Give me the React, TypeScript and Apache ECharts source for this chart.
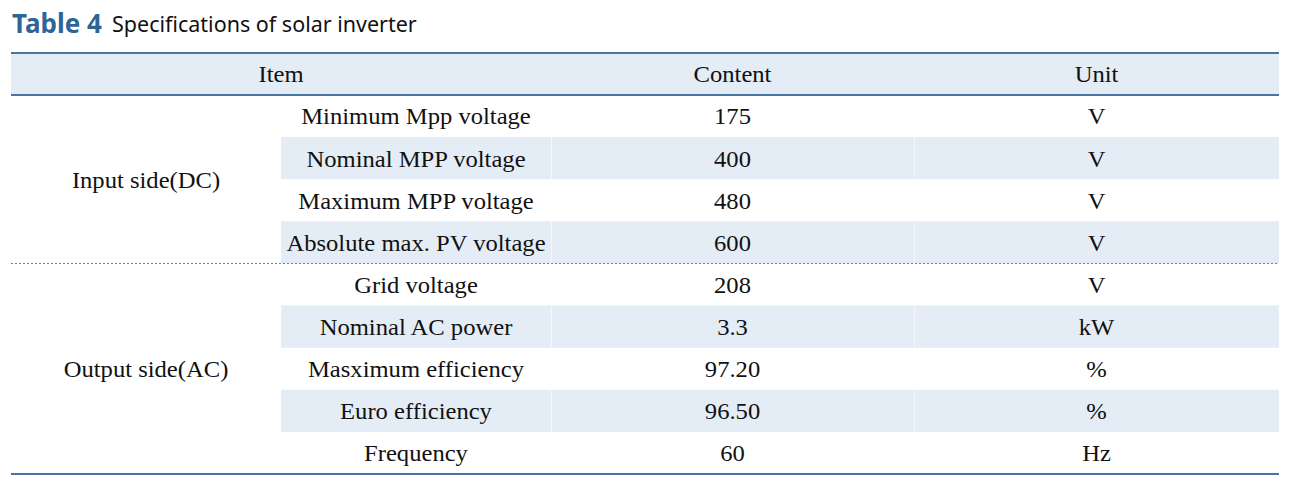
import React, { useEffect, useRef } from "react";
import * as echarts from "echarts";

const titleBold = "Table 4";
const titleRest = "Specifications of solar inverter";
const headers = ["Item", "Content", "Unit"];
const groups = ["Input side(DC)", "Output side(AC)"];
const groupSizes = [4, 5];
const items = [
  "Minimum Mpp voltage",
  "Nominal MPP voltage",
  "Maximum MPP voltage",
  "Absolute max. PV voltage",
  "Grid voltage",
  "Nominal AC power",
  "Masximum efficiency",
  "Euro efficiency",
  "Frequency",
];
const contents = ["175", "400", "480", "600", "208", "3.3", "97.20", "96.50", "60"];
const units = ["V", "V", "V", "V", "V", "kW", "%", "%", "Hz"];

export default function App() {
  const ref = useRef<HTMLDivElement>(null);
  useEffect(() => {
    document.body.style.margin = "0";
    const chart = echarts.init(ref.current!, null, { renderer: "svg" });
    const L = 11, R = 1279;
    const topY = 53, headBot = 95, botY = 474;
    const rowH = (botY - headBot) / items.length;
    const c1 = 281, c2 = 551, c3 = 914;
    const shade = "#e4ecf6";
    const lineCol = "#4a74a3";
    const fs = 24;
    const cell = (text: string, x: number, y: number) => ({
      type: "text",
      x,
      y,
      scaleX: 1.025,
      style: { text, fontFamily: "Liberation Serif", fontSize: fs, fill: "#111", align: "center", verticalAlign: "middle" },
    });
    const els: any[] = [];
    els.push({ type: "rect", shape: { x: L, y: topY, width: R - L, height: headBot - topY }, style: { fill: shade } });
    items.forEach((_, i) => {
      if (i % 2 === 1) {
        const y = headBot + i * rowH;
        els.push({ type: "rect", shape: { x: c1, y, width: R - c1, height: rowH }, style: { fill: shade } });
        [c2, c3].forEach((x) =>
          els.push({ type: "line", shape: { x1: x + 0.5, y1: y, x2: x + 0.5, y2: y + rowH }, style: { stroke: "#f4f7fb", lineWidth: 1 } })
        );
      }
    });
    [topY, headBot, botY].forEach((y) =>
      els.push({ type: "line", shape: { x1: L, y1: y, x2: R, y2: y }, style: { stroke: lineCol, lineWidth: 2 } })
    );
    let start = 0;
    groupSizes.forEach((n, gi) => {
      if (gi > 0) {
        const y = headBot + start * rowH;
        els.push({ type: "line", shape: { x1: L, y1: y, x2: R, y2: y }, style: { stroke: "#5a80ab", lineWidth: 1, lineDash: [2, 2] } });
      }
      const cy = headBot + (start + n / 2) * rowH;
      els.push(cell(groups[gi], (L + c1) / 2, cy));
      start += n;
    });
    const hy = (topY + headBot) / 2;
    const hx = [(L + c2) / 2, (c2 + c3) / 2, (c3 + R) / 2];
    headers.forEach((h, i) => els.push(cell(h, hx[i], hy)));
    items.forEach((it, i) => {
      const cy = headBot + (i + 0.5) * rowH;
      els.push(cell(it, (c1 + c2) / 2, cy));
      els.push(cell(contents[i], (c2 + c3) / 2, cy));
      els.push(cell(units[i], (c3 + R) / 2, cy));
    });
    els.push({
      type: "text", x: 12, y: 23,
      style: { text: titleBold, fontFamily: "Noto Sans", fontWeight: "bold", fontSize: 26, fill: "#2f6499", align: "left", verticalAlign: "middle" },
    });
    els.push({
      type: "text", x: 112, y: 23,
      style: { text: titleRest, fontFamily: "Noto Sans", fontSize: 21.5, fill: "#111", align: "left", verticalAlign: "middle" },
    });
    chart.setOption({ animation: false, graphic: { elements: els } });
    return () => chart.dispose();
  }, []);
  return <div ref={ref} style={{ position: "absolute", left: 0, top: 0, width: 1299, height: 477 }} />;
}
